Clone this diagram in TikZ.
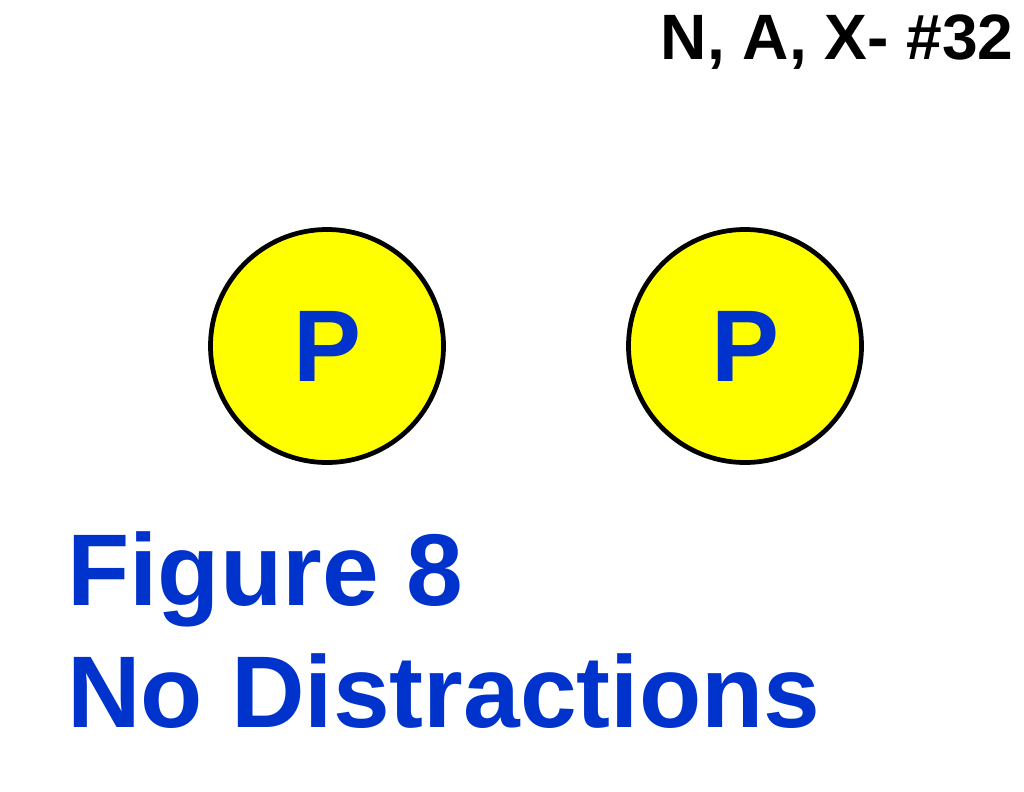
\documentclass[tikz,border=0pt]{standalone}
\usepackage{fontspec}
\setmainfont{Liberation Sans}
\definecolor{pblue}{HTML}{0033CC}
\definecolor{pyellow}{HTML}{FFFF00}
\tikzset{
  pcircle/.style={circle, draw=black, line width=2.7pt, fill=pyellow, minimum size=233*0.02cm, inner sep=0pt,
    font=\fontsize{58}{60}\selectfont\bfseries, text=pblue},
  bigtext/.style={inner sep=0pt, font=\fontsize{58}{60}\selectfont\bfseries, text=pblue, anchor=base west},
  toptext/.style={inner sep=0pt, font=\fontsize{36.5}{38}\selectfont\bfseries, text=black, anchor=base east}
}
\begin{document}
\begin{tikzpicture}[x=0.02cm, y=-0.02cm]
\useasboundingbox (0,0) rectangle (1024,791);
\node[pcircle] (p1) at (327,346) {P};
\node[pcircle] (p2) at (745,346) {P};
\node[toptext] (title) at (1014,59) {N, A, X- \#32};
\node[bigtext] (fig) at (67,605) {Figure 8};
\node[bigtext] (nod) at (67,727) {No Distractions};
\end{tikzpicture}
\end{document}
